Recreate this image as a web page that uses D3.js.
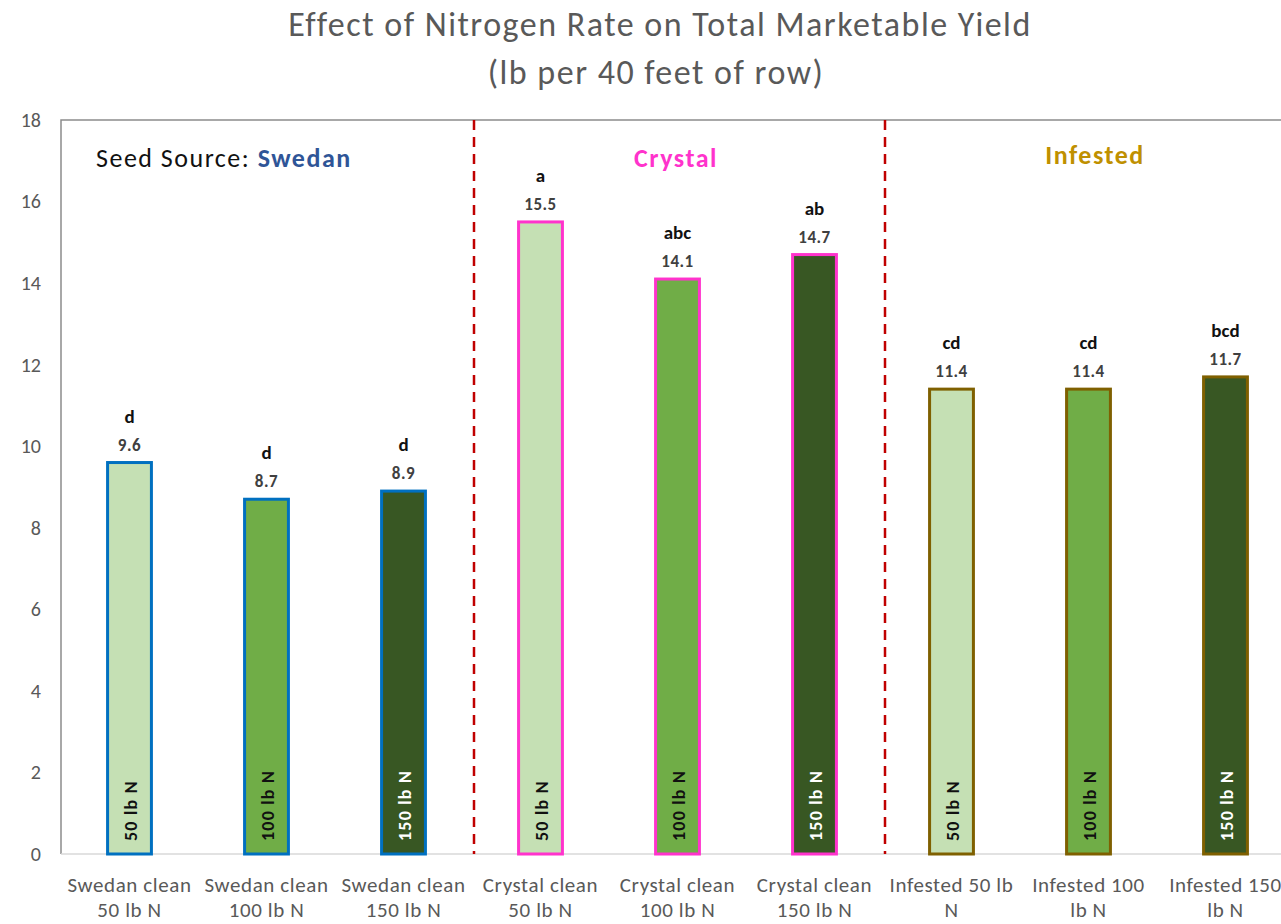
<!DOCTYPE html>
<html>
<head>
<meta charset="utf-8">
<script src="https://cdn.jsdelivr.net/npm/d3@7"></script>
<style>
  body { margin: 0; background: #fff; }
  svg { display: block; font-family: Carlito, Calibri, Lato, sans-serif; }
</style>
</head>
<body>
<div class="canvas"></div>
<script>
// chart data
const categories = [
  "Swedan clean 50 lb N", "Swedan clean 100 lb N", "Swedan clean 150 lb N",
  "Crystal clean 50 lb N", "Crystal clean 100 lb N", "Crystal clean 150 lb N",
  "Infested 50 lb N", "Infested 100 lb N", "Infested 150 lb N"
];
const categoryLines = [
  ["Swedan clean", "50 lb N"], ["Swedan clean", "100 lb N"], ["Swedan clean", "150 lb N"],
  ["Crystal clean", "50 lb N"], ["Crystal clean", "100 lb N"], ["Crystal clean", "150 lb N"],
  ["Infested 50 lb", "N"], ["Infested 100", "lb N"], ["Infested 150", "lb N"]
];
const yields = [9.6, 8.7, 8.9, 15.5, 14.1, 14.7, 11.4, 11.4, 11.7];
const letters = ["d", "d", "d", "a", "abc", "ab", "cd", "cd", "bcd"];
const rates = ["50 lb N", "100 lb N", "150 lb N", "50 lb N", "100 lb N", "150 lb N", "50 lb N", "100 lb N", "150 lb N"];
const sources = ["Swedan", "Swedan", "Swedan", "Crystal", "Crystal", "Crystal", "Infested", "Infested", "Infested"];
const yTicks = [0, 2, 4, 6, 8, 10, 12, 14, 16, 18];

const data = categories.map((c, i) => ({
  name: c, lines: categoryLines[i], value: yields[i], letter: letters[i],
  rate: rates[i], source: sources[i]
}));

const dims = { width: 1281, height: 924 };
const margin = { left: 61, top: 120 };
const plotW = 137 * 9;
const plotBottom = 854;

const fillColor = d3.scaleOrdinal()
  .domain(["50 lb N", "100 lb N", "150 lb N"])
  .range(["#c5e0b4", "#70ad47", "#385723"]);
const strokeColor = d3.scaleOrdinal()
  .domain(["Swedan", "Crystal", "Infested"])
  .range(["#0070c0", "#ff33cc", "#7f6000"]);

const svg = d3.select(".canvas")
  .append("svg")
  .attr("width", dims.width)
  .attr("height", dims.height);

const x = d3.scaleBand()
  .domain(categories)
  .range([margin.left, margin.left + plotW])
  .paddingInner(0.68)
  .paddingOuter(0.34);

const y = d3.scaleLinear()
  .domain([0, 18])
  .range([plotBottom, margin.top]);

const cx = d => x(d.name) + x.bandwidth() / 2;

// title
const title = svg.append("text")
  .attr("text-anchor", "middle")
  .attr("fill", "#595959")
  .attr("font-size", 34)
  .attr("letter-spacing", 1.5);
title.append("tspan").attr("x", 660).attr("y", 36).text("Effect of Nitrogen Rate on Total Marketable Yield");
title.append("tspan").attr("x", 656).attr("y", 84).text("(lb per 40 feet of row)");

// frame: left + top lines
svg.append("path")
  .attr("d", `M${margin.left},${plotBottom}V${margin.top}H${dims.width}`)
  .attr("fill", "none")
  .attr("stroke", "#8c8c8c")
  .attr("stroke-width", 1.5);

// bottom axis line
svg.append("line")
  .attr("x1", margin.left).attr("x2", dims.width)
  .attr("y1", plotBottom).attr("y2", plotBottom)
  .attr("stroke", "#d9d9d9")
  .attr("stroke-width", 1.5);

// y axis labels
const yAxis = d3.axisLeft(y).tickValues(yTicks).tickSize(0).tickPadding(20);
svg.append("g")
  .attr("transform", `translate(${margin.left},0)`)
  .call(yAxis)
  .call(g => g.select(".domain").remove())
  .selectAll("text")
  .attr("font-size", 20)
  .attr("font-family", "Carlito, Calibri, Lato, sans-serif")
  .attr("fill", "#595959");

// x labels (two lines)
const xLab = svg.append("g").selectAll("text")
  .data(data)
  .join("text")
  .attr("text-anchor", "middle")
  .attr("fill", "#595959")
  .attr("font-size", 21)
  .attr("letter-spacing", 0.6);
xLab.each(function (d) {
  d3.select(this).selectAll("tspan")
    .data(d.lines)
    .join("tspan")
    .attr("x", cx(d))
    .attr("y", (l, i) => 892 + i * 25)
    .text(l => l);
});

// dashed separators between groups
const seps = [categories[3], categories[6]];
svg.append("g").selectAll("line")
  .data(seps)
  .join("line")
  .attr("x1", d => x(d) - x.step() * x.paddingInner() / 2 + 2)
  .attr("x2", d => x(d) - x.step() * x.paddingInner() / 2 + 2)
  .attr("y1", margin.top)
  .attr("y2", plotBottom)
  .attr("stroke", "#c00000")
  .attr("stroke-width", 2.5)
  .attr("stroke-dasharray", "10,7");

// bars
const bars = svg.append("g");
bars.selectAll("rect")
  .data(data)
  .join("rect")
  .attr("x", d => x(d.name))
  .attr("width", x.bandwidth())
  .attr("y", d => y(d.value))
  .attr("height", d => y(0) - y(d.value))
  .attr("fill", d => fillColor(d.rate))
  .attr("stroke", d => strokeColor(d.source))
  .attr("stroke-width", 3);

// rotated rate labels in bars
bars.selectAll("text.rate")
  .data(data)
  .join("text")
  .attr("class", "rate")
  .attr("transform", d => `translate(${cx(d) + 7},${plotBottom - 13}) rotate(-90)`)
  .attr("font-size", 18)
  .attr("font-weight", "bold")
  .attr("letter-spacing", 1.2)
  .attr("fill", d => d.rate === "150 lb N" ? "#ffffff" : "#111111")
  .text(d => d.rate);

// value labels
bars.selectAll("text.val")
  .data(data)
  .join("text")
  .attr("class", "val")
  .attr("x", cx)
  .attr("y", d => y(d.value) - 12)
  .attr("text-anchor", "middle")
  .attr("font-size", 17)
  .attr("font-weight", "bold")
  .attr("letter-spacing", 0.5)
  .attr("fill", "#404040")
  .text(d => d.value.toFixed(1));

// significance letters
bars.selectAll("text.letter")
  .data(data)
  .join("text")
  .attr("class", "letter")
  .attr("x", cx)
  .attr("y", d => y(d.value) - 40)
  .attr("text-anchor", "middle")
  .attr("font-size", 19)
  .attr("font-weight", "bold")
  .attr("fill", "#111111")
  .text(d => d.letter);

// group headings
const head = svg.append("text")
  .attr("x", 96).attr("y", 167)
  .attr("font-size", 26)
  .attr("letter-spacing", 1.5)
  .attr("fill", "#111111");
head.append("tspan").text("Seed Source: ");
head.append("tspan").attr("font-weight", "bold").attr("fill", "#2f5597").text("Swedan");

svg.append("text")
  .attr("x", 676).attr("y", 167)
  .attr("text-anchor", "middle")
  .attr("font-size", 26)
  .attr("letter-spacing", 1.5)
  .attr("font-weight", "bold")
  .attr("fill", "#ff33cc")
  .text("Crystal");

svg.append("text")
  .attr("x", 1095).attr("y", 164)
  .attr("text-anchor", "middle")
  .attr("font-size", 26)
  .attr("letter-spacing", 1.5)
  .attr("font-weight", "bold")
  .attr("fill", "#bf9000")
  .text("Infested");
</script>
</body>
</html>
